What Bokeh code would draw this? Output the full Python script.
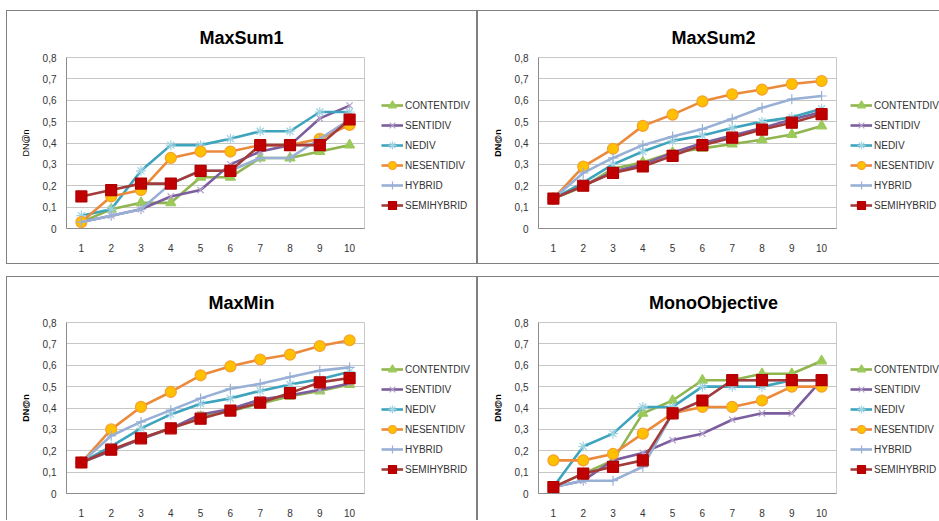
from bokeh.plotting import figure
from bokeh.models import Range1d, FixedTicker, Legend, LegendItem
from bokeh.layouts import row, column
from bokeh.embed import file_html
from bokeh.resources import INLINE

# ---------------- data ----------------
positions = [1, 2, 3, 4, 5, 6, 7, 8, 9, 10]
x_tick_labels = ["1", "2", "3", "4", "5", "6", "7", "8", "9", "10"]
y_tick_values = [0, 0.1, 0.2, 0.3, 0.4, 0.5, 0.6, 0.7, 0.8]
y_tick_labels = ["0", "0,1", "0,2", "0,3", "0,4", "0,5", "0,6", "0,7", "0,8"]
series_names = ["CONTENTDIV", "SENTIDIV", "NEDIV", "NESENTIDIV", "HYBRID", "SEMIHYBRID"]
y_axis_label = "DN@n"

# MaxSum1
maxsum1_contentdiv = [0.03, 0.09, 0.12, 0.12, 0.24, 0.24, 0.33, 0.33, 0.36, 0.39]
maxsum1_sentidiv   = [0.03, 0.06, 0.09, 0.15, 0.18, 0.30, 0.36, 0.39, 0.515, 0.575]
maxsum1_nediv      = [0.06, 0.09, 0.27, 0.39, 0.39, 0.42, 0.455, 0.455, 0.545, 0.545]
maxsum1_nesentidiv = [0.03, 0.15, 0.18, 0.33, 0.36, 0.36, 0.39, 0.39, 0.42, 0.485]
maxsum1_hybrid     = [0.03, 0.06, 0.09, 0.21, 0.27, 0.27, 0.33, 0.33, 0.42, 0.51]
maxsum1_semihybrid = [0.15, 0.18, 0.21, 0.21, 0.27, 0.27, 0.39, 0.39, 0.39, 0.51]

# MaxSum2
maxsum2_contentdiv = [0.14, 0.195, 0.28, 0.31, 0.355, 0.375, 0.395, 0.415, 0.44, 0.48]
maxsum2_sentidiv   = [0.14, 0.20, 0.265, 0.30, 0.355, 0.40, 0.435, 0.47, 0.51, 0.545]
maxsum2_nediv      = [0.14, 0.215, 0.30, 0.36, 0.41, 0.435, 0.47, 0.50, 0.52, 0.56]
maxsum2_nesentidiv = [0.14, 0.29, 0.373, 0.48, 0.533, 0.595, 0.628, 0.65, 0.676, 0.69]
maxsum2_hybrid     = [0.14, 0.26, 0.33, 0.39, 0.43, 0.465, 0.513, 0.565, 0.605, 0.62]
maxsum2_semihybrid = [0.14, 0.20, 0.26, 0.29, 0.34, 0.39, 0.425, 0.463, 0.495, 0.535]

# MaxMin
maxmin_contentdiv = [0.145, 0.20, 0.255, 0.305, 0.36, 0.385, 0.42, 0.455, 0.48, 0.51]
maxmin_sentidiv   = [0.145, 0.20, 0.255, 0.305, 0.37, 0.395, 0.44, 0.46, 0.485, 0.515]
maxmin_nediv      = [0.145, 0.22, 0.305, 0.37, 0.42, 0.445, 0.48, 0.51, 0.535, 0.57]
maxmin_nesentidiv = [0.145, 0.30, 0.405, 0.475, 0.553, 0.595, 0.627, 0.65, 0.69, 0.717]
maxmin_hybrid     = [0.145, 0.27, 0.335, 0.39, 0.445, 0.49, 0.513, 0.545, 0.575, 0.59]
maxmin_semihybrid = [0.145, 0.205, 0.258, 0.305, 0.35, 0.388, 0.425, 0.47, 0.52, 0.54]

# MonoObjective
mono_contentdiv = [0.03, 0.093, 0.155, 0.375, 0.435, 0.53, 0.53, 0.56, 0.56, 0.62]
mono_sentidiv   = [0.03, 0.06, 0.155, 0.19, 0.25, 0.28, 0.345, 0.375, 0.375, 0.53]
mono_nediv      = [0.03, 0.22, 0.28, 0.405, 0.405, 0.50, 0.50, 0.50, 0.53, 0.53]
mono_nesentidiv = [0.155, 0.155, 0.185, 0.28, 0.375, 0.405, 0.405, 0.435, 0.50, 0.50]
mono_hybrid     = [0.03, 0.06, 0.06, 0.125, 0.375, 0.435, 0.53, 0.53, 0.53, 0.53]
mono_semihybrid = [0.03, 0.093, 0.125, 0.155, 0.375, 0.435, 0.53, 0.53, 0.53, 0.53]

# ---------------- styles ----------------
FONT = "Liberation Sans"
line_colors = ["#8fb450", "#7c5e9e", "#3ea3bd", "#ec8a3c", "#98b0d6", "#a23b39"]
marker_types = ["triangle", "x", "asterisk", "circle", "cross", "square"]
marker_fill = ["#9bc95a", "#b4a3cc", "#9fd3e2", "#ffc000", "#98b0d6", "#c00000"]
marker_line = ["#9bc95a", "#b4a3cc", "#9fd3e2", "#f5a030", "#98b0d6", "#b00000"]
marker_sizes = [10, 9, 10, 11, 10, 11]
PANEL_LINE = "#808080"
FRAME_W, FRAME_H = 298, 171


def shadow_style(left, top, right, bottom):
    s = []
    if left:
        s.append(f"inset 1px 0 0 0 {PANEL_LINE}")
    if top:
        s.append(f"inset 0 1px 0 0 {PANEL_LINE}")
    if right:
        s.append(f"inset -1px 0 0 0 {PANEL_LINE}")
    if bottom:
        s.append(f"inset 0 -1px 0 0 {PANEL_LINE}")
    return {"box-shadow": ", ".join(s) if s else "none", "background": "white"}


def make_panel(title, series, plot_w, legend_w, height, mb_left, mb_top, title_width,
               label_bold, legend_dx, legend_dy, border_right=True, border_bottom=True):
    p = figure(width=plot_w, height=height, output_backend="svg", toolbar_location=None,
               x_range=Range1d(0.5, 10.5), y_range=Range1d(0, 0.8),
               min_border_left=mb_left, min_border_right=plot_w - mb_left - FRAME_W,
               min_border_top=mb_top, min_border_bottom=height - mb_top - FRAME_H,
               background_fill_color="white", border_fill_alpha=0,
               outline_line_color="#c8c8c8",
               styles=shadow_style(True, True, False, border_bottom))
    p.title.text = title
    p.title.text_font = FONT
    p.title.text_font_size = "18px"
    p.title.text_font_style = "bold"
    p.title.text_color = "#000000"
    p.title.align = "left"
    p.title.offset = 175 - title_width / 2
    p.title.standoff = 20

    # axes
    p.xaxis.ticker = FixedTicker(ticks=positions)
    p.xaxis.major_label_overrides = {pos: lab for pos, lab in zip(positions, x_tick_labels)}
    p.yaxis.ticker = FixedTicker(ticks=y_tick_values)
    p.yaxis.major_label_overrides = {v: lab for v, lab in zip(y_tick_values, y_tick_labels)}
    for ax in (p.xaxis, p.yaxis):
        ax.major_tick_line_color = None
        ax.minor_tick_line_color = None
        ax.major_tick_out = 0
        ax.major_tick_in = 0
        ax.axis_line_color = "#8c8c8c"
        ax.major_label_text_font = FONT
        ax.major_label_text_font_size = "10px"
        ax.major_label_text_color = "#333333"
    p.xaxis.major_label_standoff = 15
    p.yaxis.major_label_standoff = 10
    p.yaxis.axis_label = y_axis_label
    p.yaxis.axis_label_text_font = FONT
    p.yaxis.axis_label_text_font_size = "9px"
    p.yaxis.axis_label_text_font_style = "bold" if label_bold else "normal"
    p.yaxis.axis_label_text_color = "#000000"
    p.yaxis.axis_label_standoff = 9

    p.xgrid.grid_line_color = None
    p.ygrid.grid_line_color = "#c6c6c6"
    p.ygrid.ticker = FixedTicker(ticks=y_tick_values)

    for i, vals in enumerate(series):
        p.line(positions, vals, line_color=line_colors[i], line_width=2.6)
        p.scatter(positions, vals, marker=marker_types[i], size=marker_sizes[i],
                  fill_color=marker_fill[i], line_color=marker_line[i], line_width=1.2)

    # legend lives in a companion figure at the right of the plot; its proxy
    # renderers use the same series but fall outside that figure's view
    lf = figure(width=legend_w, height=height, output_backend="svg", toolbar_location=None,
                x_range=Range1d(-2, -1), y_range=Range1d(0, 0.8),
                x_axis_location=None, y_axis_location=None, min_border=0,
                outline_line_color=None, background_fill_alpha=0, border_fill_alpha=0,
                styles=shadow_style(False, True, border_right, border_bottom))
    lf.grid.visible = False
    items = []
    for i, (name, vals) in enumerate(zip(series_names, series)):
        r_line = lf.line(positions, vals, line_color=line_colors[i], line_width=2.6)
        r_mark = lf.scatter(positions, vals, marker=marker_types[i], size=marker_sizes[i],
                            fill_color=marker_fill[i], line_color=marker_line[i],
                            line_width=1.2)
        items.append(LegendItem(label=name, renderers=[r_line, r_mark]))
    legend = Legend(items=items, location=(legend_dx, legend_dy), orientation="vertical",
                    padding=0, margin=0, spacing=0, glyph_width=22,
                    glyph_height=20, label_height=20, label_standoff=2,
                    label_text_font=FONT, label_text_font_size="10px",
                    label_text_color="#333333",
                    border_line_color=None, background_fill_alpha=0)
    lf.add_layout(legend)
    return row(p, lf, spacing=0)


TH, BH = 254, 244

g1 = make_panel("MaxSum1",
                [maxsum1_contentdiv, maxsum1_sentidiv, maxsum1_nediv,
                 maxsum1_nesentidiv, maxsum1_hybrid, maxsum1_semihybrid],
                366, 105, TH, 60, 47, 84, False, 9, 13)
g2 = make_panel("MaxSum2",
                [maxsum2_contentdiv, maxsum2_sentidiv, maxsum2_nediv,
                 maxsum2_nesentidiv, maxsum2_hybrid, maxsum2_semihybrid],
                367, 95, TH, 61, 47, 84, True, 6, 13, border_right=False)
g3 = make_panel("MaxMin",
                [maxmin_contentdiv, maxmin_sentidiv, maxmin_nediv,
                 maxmin_nesentidiv, maxmin_hybrid, maxmin_semihybrid],
                366, 105, BH, 60, 46, 66, True, 9, 14, border_bottom=False)
g4 = make_panel("MonoObjective",
                [mono_contentdiv, mono_sentidiv, mono_nediv,
                 mono_nesentidiv, mono_hybrid, mono_semihybrid],
                367, 95, BH, 61, 46, 129, True, 6, 14,
                border_right=False, border_bottom=False)

layout = column(row(g1, g2, spacing=0), row(g3, g4, spacing=0), spacing=12,
                margin=(10, 0, 0, 6))

open("out.html", "w").write(file_html(layout, INLINE))
